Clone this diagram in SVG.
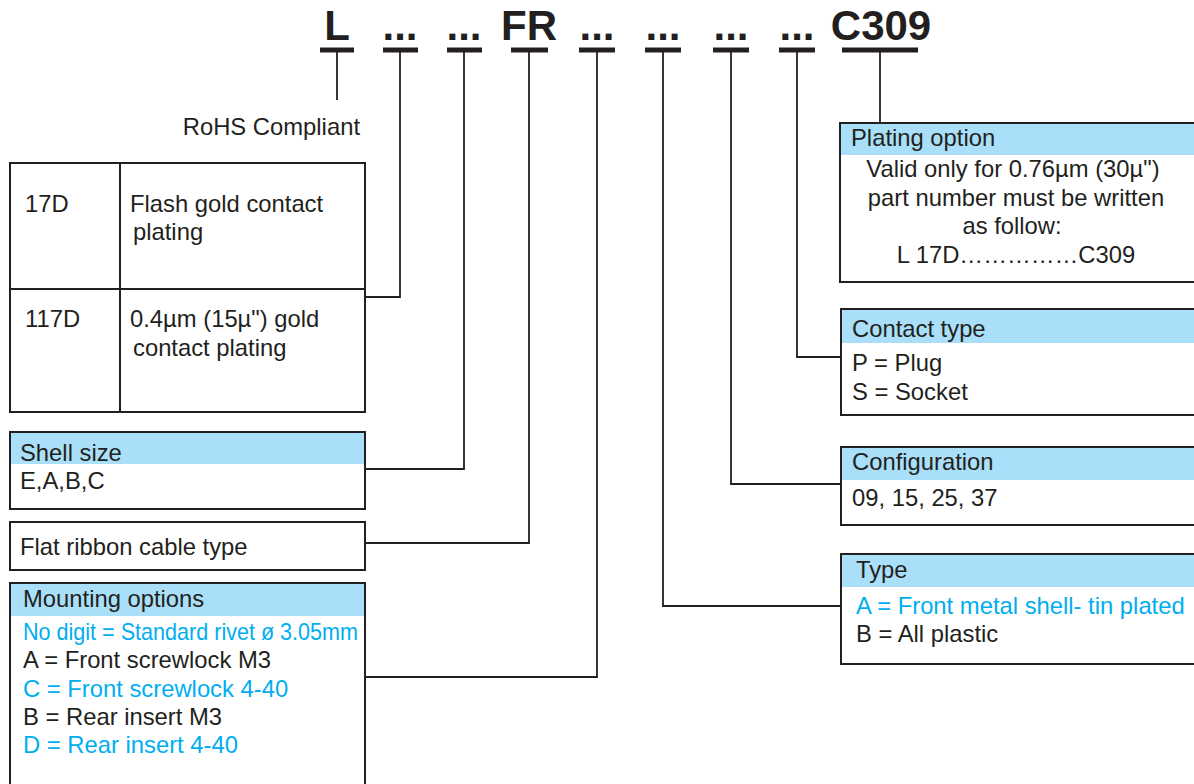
<svg xmlns="http://www.w3.org/2000/svg" width="1194" height="784" viewBox="0 0 1194 784">
<style>
text{font-family:"Liberation Sans",Arial,sans-serif;fill:#231f20;font-size:23.8px}
.t{font-weight:bold;font-size:42px}
.b{fill:#00aeef}
.box{fill:#fff;stroke:#231f20;stroke-width:2}
.hd{fill:#a9dff8}
.bar{stroke:#231f20;stroke-width:5}
.ln{fill:none;stroke:#231f20;stroke-width:1.8}
.m{text-anchor:middle}
</style>
<rect width="1194" height="784" fill="#fff"/>
<g id="code">
<text class="t m" x="337" y="40">L</text>
<text class="t m" x="400" y="40">...</text>
<text class="t m" x="464" y="40">...</text>
<text class="t m" x="529" y="40">FR</text>
<text class="t m" x="597" y="40">...</text>
<text class="t m" x="663" y="40">...</text>
<text class="t m" x="731" y="40">...</text>
<text class="t m" x="797" y="40">...</text>
<text class="t m" x="881" y="40">C309</text>
<line class="bar" x1="320" y1="50" x2="354" y2="50"/>
<line class="bar" x1="383" y1="50" x2="418" y2="50"/>
<line class="bar" x1="447" y1="50" x2="482" y2="50"/>
<line class="bar" x1="511" y1="50" x2="548" y2="50"/>
<line class="bar" x1="579" y1="50" x2="615" y2="50"/>
<line class="bar" x1="645" y1="50" x2="681" y2="50"/>
<line class="bar" x1="713" y1="50" x2="749" y2="50"/>
<line class="bar" x1="779" y1="50" x2="815" y2="50"/>
<line class="bar" x1="842" y1="50" x2="918" y2="50"/>
</g>
<g id="connectors">
<path class="ln" d="M337 52V100"/>
<path class="ln" d="M400 52V297H365"/>
<path class="ln" d="M464 52V469H365"/>
<path class="ln" d="M529 52V543H365"/>
<path class="ln" d="M597 52V677H365"/>
<path class="ln" d="M663 52V606H841"/>
<path class="ln" d="M731 52V484H841"/>
<path class="ln" d="M797 52V357H841"/>
<path class="ln" d="M880 52V123"/>
</g>
<g id="rohs">
<text x="360" y="135" text-anchor="end">RoHS Compliant</text>
</g>
<g id="plating-table">
<rect class="box" x="10" y="163" width="355" height="249"/>
<path class="ln" d="M120 163V412M10 289H365" style="stroke-width:2"/>
<text x="25" y="212">17D</text>
<text x="130" y="212">Flash gold contact</text>
<text x="133" y="240">plating</text>
<text x="25" y="327">117D</text>
<text x="130" y="327">0.4µm (15µ") gold</text>
<text x="133" y="356">contact plating</text>
</g>
<g id="shell-size">
<rect class="box" x="10" y="432" width="355" height="77"/>
<rect class="hd" x="11" y="433" width="353" height="31"/>
<text x="20" y="461">Shell size</text>
<text x="20" y="489">E,A,B,C</text>
</g>
<g id="flat-ribbon">
<rect class="box" x="10" y="522" width="355" height="48"/>
<text x="20" y="555">Flat ribbon cable type</text>
</g>
<g id="mounting">
<rect class="box" x="10" y="583" width="355" height="205"/>
<rect class="hd" x="11" y="584" width="353" height="32"/>
<text x="23" y="607">Mounting options</text>
<text class="b" x="23" y="640" textLength="335" lengthAdjust="spacingAndGlyphs">No digit = Standard rivet ø 3.05mm</text>
<text x="23" y="668">A = Front screwlock M3</text>
<text class="b" x="23" y="697">C = Front screwlock 4-40</text>
<text x="23" y="725">B = Rear insert M3</text>
<text class="b" x="23" y="753">D = Rear insert 4-40</text>
</g>
<g id="plating-option">
<rect class="box" x="840" y="123" width="370" height="159"/>
<rect class="hd" x="841" y="124" width="369" height="31"/>
<text x="851" y="146">Plating option</text>
<text class="m" x="1013" y="177">Valid only for 0.76µm (30µ")</text>
<text class="m" x="1016" y="206">part number must be written</text>
<text class="m" x="1012" y="234">as follow:</text>
<text class="m" x="1016" y="263">L 17D……………C309</text>
</g>
<g id="contact-type">
<rect class="box" x="841" y="309" width="370" height="106"/>
<rect class="hd" x="842" y="310" width="369" height="33"/>
<text x="852" y="337">Contact type</text>
<text x="852" y="371">P = Plug</text>
<text x="852" y="400">S = Socket</text>
</g>
<g id="configuration">
<rect class="box" x="841" y="447" width="370" height="78"/>
<rect class="hd" x="842" y="448" width="369" height="32"/>
<text x="852" y="470">Configuration</text>
<text x="852" y="506">09, 15, 25, 37</text>
</g>
<g id="type">
<rect class="box" x="841" y="554" width="370" height="110"/>
<rect class="hd" x="842" y="555" width="369" height="32"/>
<text x="856" y="578">Type</text>
<text class="b" x="856" y="614">A = Front metal shell- tin plated</text>
<text x="856" y="642">B = All plastic</text>
</g>
</svg>
